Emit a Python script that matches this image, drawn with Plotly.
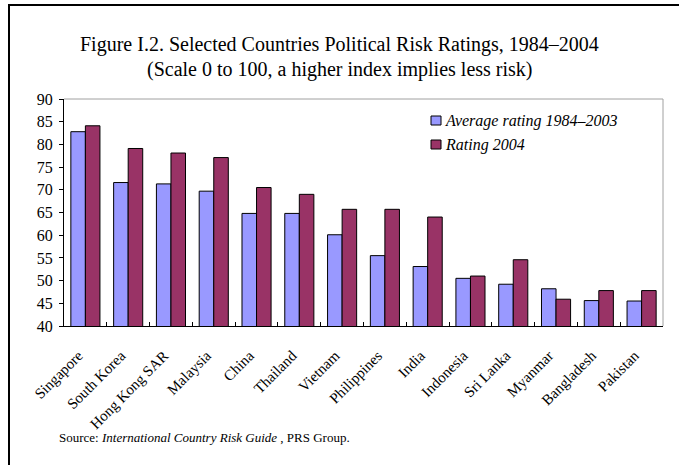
import plotly.graph_objects as go

countries = ["Singapore", "South Korea", "Hong Kong SAR", "Malaysia", "China",
             "Thailand", "Vietnam", "Philippines", "India", "Indonesia",
             "Sri Lanka", "Myanmar", "Bangladesh", "Pakistan"]
avg_1984_2003 = [82.8, 71.6, 71.3, 69.7, 64.8, 64.8, 60.1, 55.5, 53.1, 50.5,
                 49.2, 48.2, 45.6, 45.5]
rating_2004 = [84.1, 79.1, 78.1, 77.1, 70.5, 69.0, 65.7, 65.7, 64.0, 51.0,
               54.6, 45.9, 47.8, 47.8]
y_ticks = [40, 45, 50, 55, 60, 65, 70, 75, 80, 85, 90]

series = [
    ("Average rating 1984\u20132003", avg_1984_2003, "#9999FF"),
    ("Rating 2004", rating_2004, "#993366"),
]

W, H = 679, 465
L, R, T, B = 64, 16, 99, 139
pw, ph = W - L - R, H - T - B


def px(x):
    return (x - L) / pw


def py(y):
    return (H - B - y) / ph


serif = "Liberation Serif, Times New Roman, serif"

fig = go.Figure()
for name, vals, color in series:
    fig.add_trace(go.Bar(x=countries, y=vals, name=name,
                         marker=dict(color=color, line=dict(color="black", width=1))))

shapes = [
    # plot-area top and right borders
    dict(type="line", xref="paper", yref="paper", x0=0, x1=1, y0=1, y1=1,
         line=dict(color="#A0A0A0", width=1)),
    dict(type="line", xref="paper", yref="paper", x0=1, x1=1, y0=0, y1=1,
         line=dict(color="#A0A0A0", width=1)),
    # outer frame (left and top)
    dict(type="line", xref="paper", yref="paper", x0=px(9), x1=px(9), y0=py(4), y1=py(470),
         line=dict(color="black", width=2)),
    dict(type="line", xref="paper", yref="paper", x0=px(8), x1=px(690), y0=py(5), y1=py(5),
         line=dict(color="black", width=2)),
]

annotations = [
    dict(text="Figure I.2. Selected Countries Political Risk Ratings, 1984\u20132004",
         xref="paper", yref="paper", x=px(339), y=py(45), xanchor="center", yanchor="middle",
         showarrow=False, font=dict(family=serif, size=20)),
    dict(text="(Scale 0 to 100, a higher index implies less risk)",
         xref="paper", yref="paper", x=px(339), y=py(69), xanchor="center", yanchor="middle",
         showarrow=False, font=dict(family=serif, size=20)),
    dict(text="Source: <i>International Country Risk Guide</i> , PRS Group.",
         xref="paper", yref="paper", x=px(57), y=py(437), xanchor="left", yanchor="middle",
         showarrow=False, font=dict(family=serif, size=13)),
]

# legend: swatch boxes with italic labels beside them
for i, (name, _, color) in enumerate(series):
    cy = 121 + 24 * i
    shapes.append(dict(type="rect", xref="paper", yref="paper",
                       x0=px(431), x1=px(441), y0=py(cy - 5), y1=py(cy + 4),
                       fillcolor=color, line=dict(color="black", width=1)))
    annotations.append(dict(text="<i>" + name + "</i>", xref="paper", yref="paper",
                            x=px(443), y=py(cy), xanchor="left", yanchor="middle",
                            showarrow=False, font=dict(family=serif, size=16)))

fig.update_layout(
    width=W, height=H,
    margin=dict(l=L, r=R, t=T, b=B),
    paper_bgcolor="white", plot_bgcolor="white",
    barmode="group", bargap=0.32, bargroupgap=0,
    font=dict(family=serif, size=14, color="black"),
    showlegend=False,
    xaxis=dict(showline=True, linecolor="black", linewidth=1,
               ticks="inside", ticklen=4, tickcolor="black", tickson="boundaries",
               tickangle=-45, tickfont=dict(family=serif, size=15),
               ticklabelstandoff=14, ticklabelshift=-7,
               showgrid=False, fixedrange=True),
    yaxis=dict(range=[40, 90], tickvals=y_ticks, showline=True, linecolor="black",
               linewidth=1, ticks="outside", ticklen=4, tickcolor="black",
               ticklabelstandoff=3,
               showgrid=False, zeroline=False, tickfont=dict(family=serif, size=16)),
    shapes=shapes,
    annotations=annotations,
)

fig.write_html("out.html")
